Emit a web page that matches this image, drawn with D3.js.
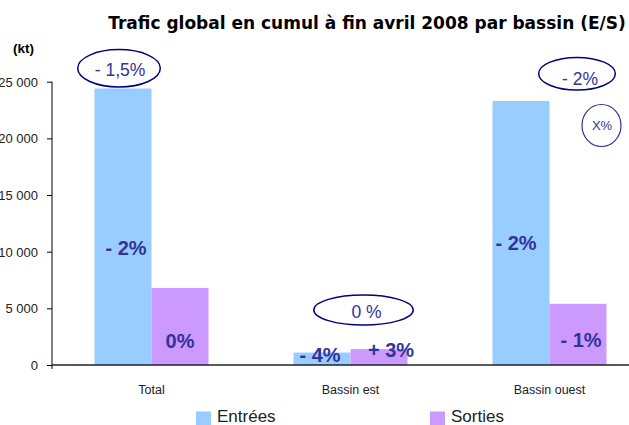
<!DOCTYPE html>
<html lang="fr">
<head>
    <meta charset="UTF-8">
    <title>Trafic global par bassin</title>
    <style>
        body { margin: 0; background: #fff; }
        svg { display: block; }
    </style>
</head>
<body>
    <svg id="chart" width="629" height="425"></svg>
    <script src="https://d3js.org/d3.v7.min.js"></script>
    <script>
        // Data (kt)
        const categories = ["Total", "Bassin est", "Bassin ouest"];
        const entrees = [24400, 1100, 23300];
        const sorties = [6800, 1400, 5400];
        const yTicks = [0, 5000, 10000, 15000, 20000, 25000];
        const varEntrees = ["- 2%", "- 4%", "- 2%"];
        const varSorties = ["0%", "+ 3%", "- 1%"];
        const varTotals = ["- 1,5%", "0 %", "- 2%"];
        const seriesNames = ["Entrées", "Sorties"];

        const colors = { "Entrées": "#99ccff", "Sorties": "#cc99ff" };
        const labelColor = "#333399";
        const ringColor = "#000080";

        const svg = d3.select("#chart");

        const x = d3.scaleBand()
            .domain(categories)
            .range([52, 649])
            .paddingInner(0)
            .paddingOuter(0);
        const xs = d3.scaleBand()
            .domain(seriesNames)
            .range([42.5, x.bandwidth() - 42.5]);
        const y = d3.scaleLinear()
            .domain([0, 25000])
            .range([365, 81.7]);

        // title
        svg.append("text")
            .attr("x", 367).attr("y", 29)
            .attr("text-anchor", "middle")
            .style("font-family", "DejaVu Sans, sans-serif")
            .style("font-weight", "bold")
            .style("font-size", "17px")
            .attr("fill", "#000")
            .text("Trafic global en cumul à fin avril 2008 par bassin (E/S)");

        svg.append("text")
            .attr("x", 13).attr("y", 53)
            .style("font-family", "Liberation Sans, Arial, sans-serif")
            .style("font-weight", "bold")
            .style("font-size", "13.5px")
            .text("(kt)");

        // y axis
        const fmt = d => d3.format(",")(d).replace(/,/g, " ");
        const yAxis = svg.append("g")
            .attr("transform", "translate(52,0)")
            .call(d3.axisLeft(y).tickValues(yTicks).tickSize(5).tickFormat(fmt).tickSizeOuter(0));
        yAxis.select(".domain").attr("stroke", "#555").attr("stroke-width", 1.5)
            .attr("d", `M0,${y(25000)}V${y(0) + 4}`);
        yAxis.selectAll(".tick line").attr("stroke", "#000");
        yAxis.selectAll(".tick text")
            .attr("x", -14).attr("dy", "0.35em")
            .style("font-family", "Liberation Sans, Arial, sans-serif")
            .style("font-size", "13px")
            .attr("fill", "#222");

        // bars
        const groups = svg.append("g").selectAll("g")
            .data(categories)
            .join("g")
            .attr("transform", d => `translate(${x(d)},0)`);

        groups.selectAll("rect")
            .data((d, i) => [
                { key: "Entrées", value: entrees[i] },
                { key: "Sorties", value: sorties[i] }
            ])
            .join("rect")
            .attr("x", d => xs(d.key))
            .attr("width", xs.bandwidth())
            .attr("y", d => y(d.value))
            .attr("height", d => y(0) - y(d.value))
            .attr("fill", d => colors[d.key]);

        // x baseline
        svg.append("line")
            .attr("x1", 52).attr("x2", 629)
            .attr("y1", y(0)).attr("y2", y(0))
            .attr("stroke", "#222").attr("stroke-width", 1.3);

        // category labels
        svg.append("g").selectAll("text")
            .data(categories)
            .join("text")
            .attr("x", d => x(d) + x.bandwidth() / 2)
            .attr("y", 394)
            .attr("text-anchor", "middle")
            .style("font-family", "Liberation Sans, Arial, sans-serif")
            .style("font-size", "12.5px")
            .attr("fill", "#222")
            .text(d => d);

        // variation labels inside bars
        const inBar = [
            { text: varEntrees[0], cx: x("Total") + xs("Entrées") + xs.bandwidth() / 2 + 3, v: 9700 },
            { text: varSorties[0], cx: x("Total") + xs("Sorties") + xs.bandwidth() / 2, v: 1500 },
            { text: varEntrees[1], cx: x("Bassin est") + xs("Entrées") + xs.bandwidth() / 2 - 2, v: 250 },
            { text: varSorties[1], cx: x("Bassin est") + xs("Sorties") + xs.bandwidth() / 2 + 12, v: 700 },
            { text: varEntrees[2], cx: x("Bassin ouest") + xs("Entrées") + xs.bandwidth() / 2 - 5, v: 10150 },
            { text: varSorties[2], cx: x("Bassin ouest") + xs("Sorties") + xs.bandwidth() / 2 + 3, v: 1620 }
        ];
        svg.append("g").selectAll("text")
            .data(inBar)
            .join("text")
            .attr("x", d => d.cx)
            .attr("y", d => y(d.v))
            .attr("text-anchor", "middle")
            .style("font-family", "Liberation Sans, Arial, sans-serif")
            .style("font-weight", "bold")
            .style("font-size", "20px")
            .attr("fill", labelColor)
            .text(d => d.text);

        // ringed totals
        const rings = [
            { text: varTotals[0], cx: x("Total") + xs("Entrées") + xs.bandwidth() / 2 - 4, cy: 68.3, rx: 41.3, ry: 18.7, tx: 1, ty: 7.5 },
            { text: varTotals[1], cx: x("Bassin est") + x.bandwidth() / 2 + 13, cy: 310, rx: 49.7, ry: 15, tx: 3, ty: 8 },
            { text: varTotals[2], cx: x("Bassin ouest") + xs("Sorties") + xs.bandwidth() / 2 - 1, cy: 73.7, rx: 38.3, ry: 16.3, tx: 3, ty: 11.5 }
        ];
        const ringG = svg.append("g").selectAll("g")
            .data(rings)
            .join("g");
        ringG.append("ellipse")
            .attr("cx", d => d.cx).attr("cy", d => d.cy)
            .attr("rx", d => d.rx).attr("ry", d => d.ry)
            .attr("fill", "none")
            .attr("stroke", ringColor)
            .attr("stroke-width", 1.5);
        ringG.append("text")
            .attr("x", d => d.cx + d.tx)
            .attr("y", d => d.cy + d.ty)
            .attr("text-anchor", "middle")
            .style("font-family", "Liberation Sans, Arial, sans-serif")
            .style("font-size", "17.5px")
            .attr("fill", labelColor)
            .text(d => d.text);

        // "X%" key circle
        svg.append("ellipse")
            .attr("cx", 601.5).attr("cy", 125.5)
            .attr("rx", 19.5).attr("ry", 21)
            .attr("fill", "none")
            .attr("stroke", "#333399")
            .attr("stroke-width", 1.2);
        svg.append("text")
            .attr("x", 602).attr("y", 130)
            .attr("text-anchor", "middle")
            .style("font-family", "Liberation Sans, Arial, sans-serif")
            .style("font-size", "13px")
            .attr("fill", labelColor)
            .text("X%");

        // legend
        const legendX = [196, 430];
        const legend = svg.append("g").selectAll("g")
            .data(seriesNames)
            .join("g")
            .attr("transform", (d, i) => `translate(${legendX[i]},411.5)`);
        legend.append("rect")
            .attr("width", 15).attr("height", 14)
            .attr("fill", d => colors[d]);
        legend.append("text")
            .attr("x", 21).attr("y", 10.3)
            .style("font-family", "Liberation Sans, Arial, sans-serif")
            .style("font-size", "17px")
            .attr("fill", "#222")
            .text(d => d);
    </script>
</body>
</html>
